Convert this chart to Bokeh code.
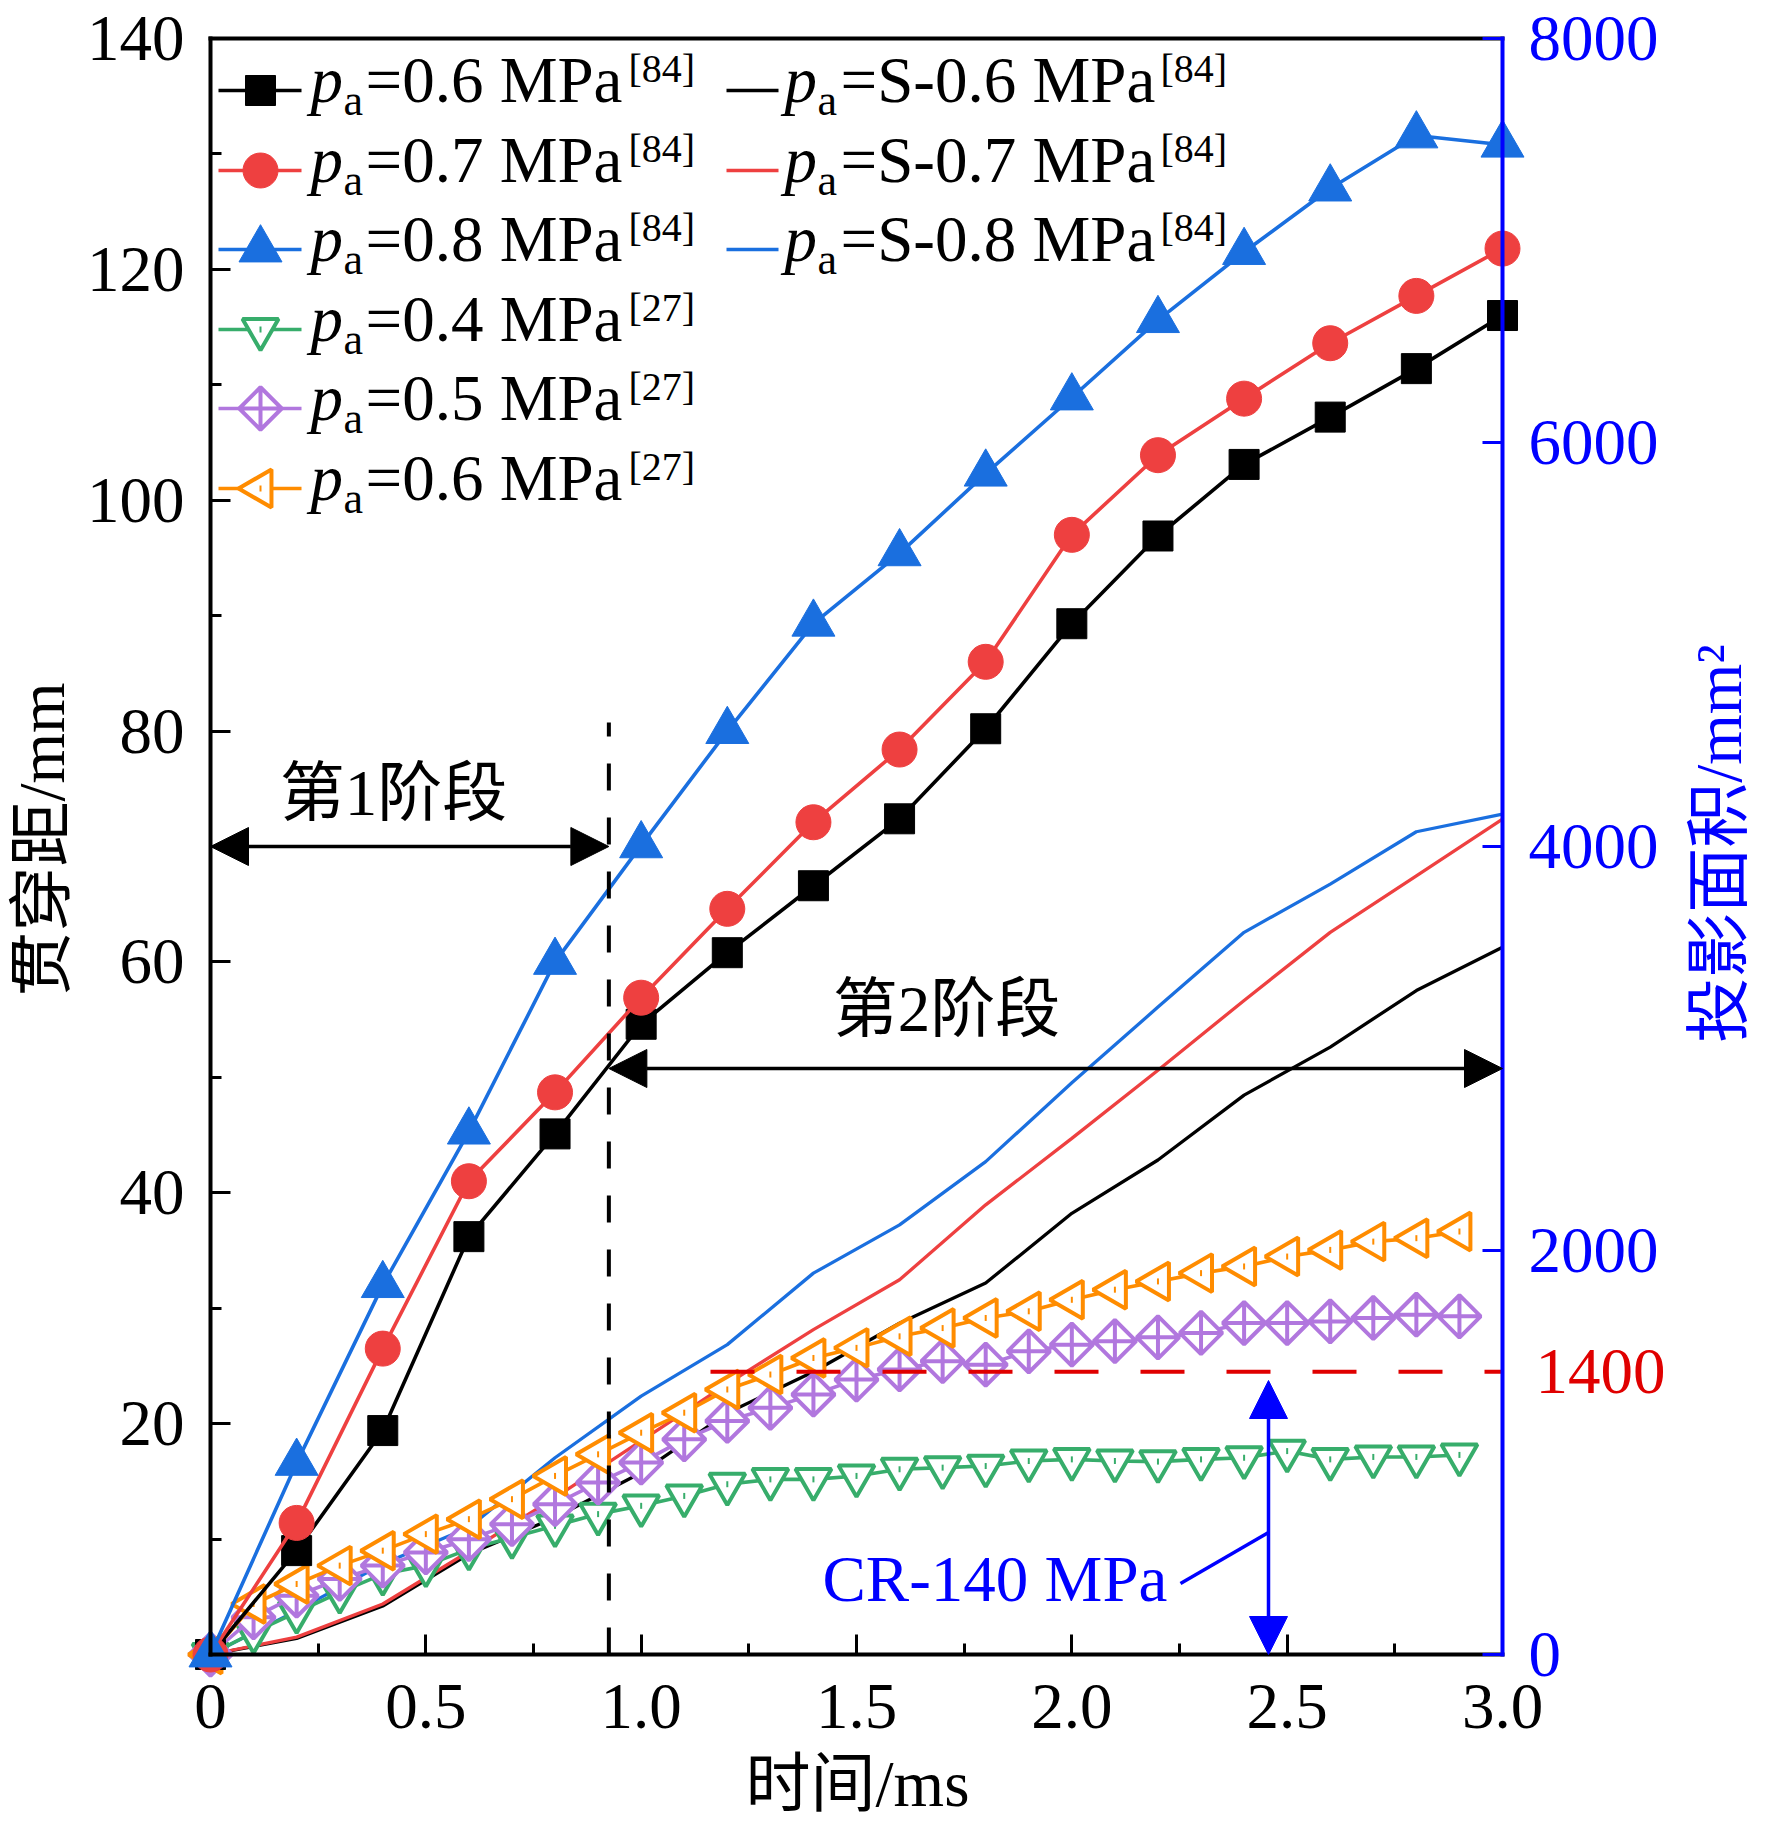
import math
from bokeh.plotting import figure
from bokeh.models import Range1d, LinearAxis, FixedTicker, Arrow, NormalHead, Label, CustomJSTickFormatter
from bokeh.core.properties import value
from bokeh.embed import file_html
from bokeh.resources import INLINE

# ---------------- data ----------------
t_84 = [0.0, 0.2, 0.4, 0.6, 0.8, 1.0, 1.2, 1.4, 1.6, 1.8, 2.0, 2.2, 2.4, 2.6, 2.8, 3.0]
pen_06 = [0, 9.0, 19.4, 36.2, 45.1, 54.6, 60.8, 66.6, 72.4, 80.2, 89.3, 96.9, 103.1, 107.2, 111.4, 116.0]
pen_07 = [0, 11.4, 26.5, 41.0, 48.7, 56.9, 64.6, 72.1, 78.4, 86.0, 97.0, 103.9, 108.8, 113.6, 117.7, 121.8]
pen_08 = [0, 16.6, 32.0, 45.3, 60.0, 70.1, 80.0, 89.3, 95.4, 102.3, 108.9, 115.6, 121.5, 127.0, 131.6, 130.8]

area_s06 = [0, 80, 240, 497, 678, 900, 1195, 1400, 1640, 1839, 2184, 2448, 2769, 3007, 3287, 3501]
area_s07 = [0, 86, 250, 510, 777, 1057, 1340, 1608, 1855, 2226, 2555, 2892, 3238, 3575, 3855, 4135]
area_s08 = [0, 217, 448, 629, 974, 1279, 1534, 1888, 2127, 2440, 2830, 3205, 3575, 3814, 4073, 4160]

t_27 = [0.0, 0.1, 0.2, 0.3, 0.4, 0.5, 0.6, 0.7, 0.8, 0.9, 1.0, 1.1, 1.2, 1.3, 1.4,
        1.5, 1.6, 1.7, 1.8, 1.9, 2.0, 2.1, 2.2, 2.3, 2.4, 2.5, 2.6, 2.7, 2.8, 2.9]
area_04 = [0, 110, 209, 308, 398, 440, 522, 579, 637, 695, 736, 785, 843, 867, 867,
           884, 917, 925, 933, 958, 966, 958, 955, 966, 974, 1007, 966, 978, 978, 988]
area_05 = [0, 184, 291, 374, 440, 505, 571, 645, 744, 851, 950, 1065, 1156, 1221, 1287,
           1361, 1411, 1452, 1435, 1501, 1534, 1551, 1570, 1592, 1641, 1641, 1649, 1666, 1682, 1674]
area_06 = [0, 250, 349, 440, 514, 596, 670, 769, 884, 991, 1098, 1197, 1312, 1386, 1468,
           1518, 1575, 1616, 1666, 1699, 1756, 1806, 1847, 1888, 1921, 1970, 2003, 2044, 2061, 2094]

x_ticks = [0, 0.5, 1.0, 1.5, 2.0, 2.5, 3.0]
x_minor = [0.25, 0.75, 1.25, 1.75, 2.25, 2.75]
y_left_ticks = [20, 40, 60, 80, 100, 120, 140]
y_left_minor = [10, 30, 50, 70, 90, 110, 130]
y_right_ticks = [0, 2000, 4000, 6000, 8000]
x_max, y_left_max, y_right_max = 3.0, 140.0, 8000.0

threshold_area = 1400
stage_boundary = 0.925

x_title = "时间/ms"
y_left_title = "贯穿距/mm"
y_right_title = "投影面积/mm²"

legend_left_main = ["=0.6 MPa", "=0.7 MPa", "=0.8 MPa", "=0.4 MPa", "=0.5 MPa", "=0.6 MPa"]
legend_left_refs = ["[84]", "[84]", "[84]", "[27]", "[27]", "[27]"]
legend_right_main = ["=S-0.6 MPa", "=S-0.7 MPa", "=S-0.8 MPa"]
legend_right_refs = ["[84]", "[84]", "[84]"]

# ---------------- style ----------------
SERIF = "'Liberation Serif', 'Noto Sans CJK SC'"
BLACK = "#000000"
RED = "#ee4040"
BLUE = "#1a6fdf"
GREEN = "#37ad6b"
PURPLE = "#b177de"
ORANGE = "#ff8c00"
AXBLUE = "#0000ff"
THRED = "#e00000"
FS = "65px"
LW_DATA = 3.6     # lines of the marker series
LW_SIM = 3.3      # simulated lines
LW_OPEN = 4       # outline of open markers

W, H = 1772, 1832
# where the axes box sits on the page (px)
FL, FR, FT, FB = 210, 1502, 38, 1654
R = y_right_max / y_left_max


def X(px):
    return (px - FL) / (FR - FL) * x_max


def Y(py):
    return (FB - py) / (FB - FT) * y_left_max


# the drawing frame covers the whole canvas; axes are pinned with fixed_location
p = figure(width=W, height=H, x_range=Range1d(X(0), X(W)), y_range=Range1d(Y(H), Y(0)),
           output_backend="svg", toolbar_location=None, title=None,
           x_axis_location=None, y_axis_location=None, min_border=0)
p.extra_y_ranges = {"right": Range1d(Y(H) * R, Y(0) * R)}
p.outline_line_color = None
for g in p.grid:
    g.visible = False
p.background_fill_color = "white"
p.border_fill_color = "white"


def style_axis(ax, color):
    ax.axis_line_color = color
    ax.axis_line_width = 4
    ax.major_tick_line_color = color
    ax.major_tick_line_width = 3
    ax.minor_tick_line_color = color
    ax.minor_tick_line_width = 3
    ax.major_tick_in = 20
    ax.major_tick_out = 0
    ax.minor_tick_in = 11
    ax.minor_tick_out = 0
    ax.major_label_text_font = SERIF
    ax.major_label_text_font_size = FS
    ax.major_label_text_color = color


xa = LinearAxis(fixed_location=0, bounds=(X(FL - 2), X(FR + 2)))
style_axis(xa, BLACK)
xa.ticker = FixedTicker(ticks=x_ticks, minor_ticks=x_minor)
xa.formatter = CustomJSTickFormatter(code="return tick == 0 ? '0' : tick.toFixed(1);")
xa.major_label_standoff = 30
p.add_layout(xa, "below")

ya = LinearAxis(fixed_location=0, bounds=(Y(FB + 2), Y(FT - 2)))
style_axis(ya, BLACK)
ya.ticker = FixedTicker(ticks=y_left_ticks, minor_ticks=y_left_minor)
ya.major_label_standoff = 26
p.add_layout(ya, "left")

ra = LinearAxis(y_range_name="right", fixed_location=x_max,
                bounds=(Y(FB + 2) * R, Y(FT - 2) * R))
style_axis(ra, AXBLUE)
ra.ticker = FixedTicker(ticks=y_right_ticks, minor_ticks=[])
ra.major_label_standoff = 26
p.add_layout(ra, "right")

ta = LinearAxis(fixed_location=y_left_max, bounds=(X(FL - 2), X(FR + 2)),
                ticker=FixedTicker(ticks=[], minor_ticks=[]))
ta.axis_line_color = BLACK
ta.axis_line_width = 4
ta.major_tick_line_color = None
ta.minor_tick_line_color = None
ta.major_label_text_font_size = "0px"
p.add_layout(ta, "above")

# axis titles and the red threshold value
p.text(x=[X(41)], y=[Y(839)], text=[y_left_title], angle=math.pi / 2,
       text_font=value(SERIF), text_font_size=value(FS), text_align="center",
       text_baseline="middle", text_color=BLACK)
p.text(x=[X(857)], y=[Y(1783)], text=[x_title],
       text_font=value(SERIF), text_font_size=value(FS), text_align="center",
       text_baseline="middle", text_color=BLACK)
p.text(x=[X(1718)], y=[Y(843)], text=[y_right_title], angle=math.pi / 2,
       text_font=value(SERIF), text_font_size=value(FS), text_align="center",
       text_baseline="middle", text_color=AXBLUE)
p.text(x=[x_max], y=[threshold_area], text=[str(threshold_area)], x_offset=33,
       y_range_name="right", text_font=value(SERIF), text_font_size=value(FS),
       text_align="left", text_baseline="middle", text_color=THRED)

# ---------------- simulated lines (right axis) ----------------
p.line(t_84, area_s06, line_color=BLACK, line_width=LW_SIM, y_range_name="right")
p.line(t_84, area_s07, line_color=RED, line_width=LW_SIM, y_range_name="right")
p.line(t_84, area_s08, line_color=BLUE, line_width=LW_SIM, y_range_name="right")

# ---------------- [27] open-marker series (right axis) ----------------
p.line(t_27, area_04, line_color=GREEN, line_width=LW_DATA, y_range_name="right")
p.scatter(t_27, area_04, marker="inverted_triangle", size=36, line_color=GREEN,
          fill_color="white", line_width=LW_OPEN, y_range_name="right")
p.scatter(t_27, area_04, marker="dash", angle=math.pi / 2, size=6, line_color=GREEN,
          line_width=2, y_range_name="right")

p.line(t_27, area_05, line_color=PURPLE, line_width=LW_DATA, y_range_name="right")
p.scatter(t_27, area_05, marker="square_x", angle=math.pi / 4, size=30, line_color=PURPLE,
          fill_color="white", line_width=LW_OPEN, y_range_name="right")

p.line(t_27, area_06, line_color=ORANGE, line_width=LW_DATA, y_range_name="right")
p.scatter(t_27, area_06, marker="triangle", angle=math.pi / 2, size=38, line_color=ORANGE,
          fill_color="white", line_width=LW_OPEN, y_range_name="right")
p.scatter(t_27, area_06, marker="dash", angle=math.pi / 2, size=6, line_color=ORANGE,
          line_width=2, y_range_name="right")

# ---------------- [84] filled series (left axis) ----------------
p.line(t_84, pen_06, line_color=BLACK, line_width=LW_DATA)
p.scatter(t_84, pen_06, marker="square", size=30, color=BLACK)
p.line(t_84, pen_07, line_color=RED, line_width=LW_DATA)
p.scatter(t_84, pen_07, marker="circle", size=35, color=RED)
p.line(t_84, pen_08, line_color=BLUE, line_width=LW_DATA)
p.scatter(t_84, pen_08, marker="triangle", size=43, color=BLUE)

# ---------------- annotations ----------------
p.line([stage_boundary, stage_boundary], [0, Y(722)], line_color=BLACK, line_width=4,
       line_dash="27 27")
p.line([X(710), x_max], [threshold_area, threshold_area], line_color=THRED, line_width=4,
       line_dash="44 42", y_range_name="right")

p.add_layout(Arrow(start=NormalHead(size=38, fill_color=BLACK, line_color=BLACK),
                   end=NormalHead(size=38, fill_color=BLACK, line_color=BLACK),
                   x_start=0, y_start=Y(846), x_end=stage_boundary, y_end=Y(846),
                   line_width=3.5, line_color=BLACK))
p.add_layout(Arrow(start=NormalHead(size=38, fill_color=BLACK, line_color=BLACK),
                   end=NormalHead(size=38, fill_color=BLACK, line_color=BLACK),
                   x_start=stage_boundary, y_start=Y(1068), x_end=x_max, y_end=Y(1068),
                   line_width=3.5, line_color=BLACK))
cr_x = X(1268)
p.add_layout(Arrow(start=NormalHead(size=38, fill_color=AXBLUE, line_color=AXBLUE),
                   end=NormalHead(size=38, fill_color=AXBLUE, line_color=AXBLUE),
                   x_start=cr_x, y_start=Y(1380), x_end=cr_x, y_end=0,
                   line_width=3.5, line_color=AXBLUE))
p.line([X(1180), cr_x], [Y(1583), Y(1532)], line_color=AXBLUE, line_width=3.5)

p.add_layout(Label(x=X(393), y=Y(792), text="第1阶段", text_font=SERIF, text_font_size=FS,
                   text_align="center", text_baseline="middle", text_color=BLACK))
p.add_layout(Label(x=X(946), y=Y(1008), text="第2阶段", text_font=SERIF, text_font_size=FS,
                   text_align="center", text_baseline="middle", text_color=BLACK))
p.add_layout(Label(x=X(822), y=Y(1578), text="CR-140 MPa", text_font=SERIF, text_font_size=FS,
                   text_align="left", text_baseline="middle", text_color=AXBLUE))

# ---------------- hand-built legend ----------------
rows = [90, 170, 249, 329, 408, 488]
left_colors = [BLACK, RED, BLUE, GREEN, PURPLE, ORANGE]
for ry, col in zip(rows, left_colors):
    p.line([X(218), X(301)], [Y(ry), Y(ry)], line_color=col, line_width=LW_DATA)
mx = X(260)
p.scatter([mx], [Y(rows[0])], marker="square", size=30, color=BLACK)
p.scatter([mx], [Y(rows[1])], marker="circle", size=35, color=RED)
p.scatter([mx], [Y(rows[2])], marker="triangle", size=43, color=BLUE)
p.scatter([mx], [Y(rows[3])], marker="inverted_triangle", size=36, line_color=GREEN,
          fill_color="white", line_width=LW_OPEN)
p.scatter([mx], [Y(rows[3])], marker="dash", angle=math.pi / 2, size=6, line_color=GREEN, line_width=2)
p.scatter([mx], [Y(rows[4])], marker="square_x", angle=math.pi / 4, size=30, line_color=PURPLE,
          fill_color="white", line_width=LW_OPEN)
p.scatter([mx], [Y(rows[5])], marker="triangle", angle=math.pi / 2, size=38, line_color=ORANGE,
          fill_color="white", line_width=LW_OPEN)
p.scatter([mx], [Y(rows[5])], marker="dash", angle=math.pi / 2, size=6, line_color=ORANGE, line_width=2)

for ry, col in zip(rows[:3], [BLACK, RED, BLUE]):
    p.line([X(726), X(778)], [Y(ry), Y(ry)], line_color=col, line_width=LW_SIM)


def legend_text(x_p, x_a, x_main, x_ref, rws, mains, refs):
    n = len(rws)
    p.text(x=[X(x_p)] * n, y=[Y(r - 11) for r in rws], text=["p"] * n,
           text_font=value(SERIF), text_font_size=value(FS), text_font_style="italic",
           text_baseline="middle", text_align="left", text_color=BLACK)
    p.text(x=[X(x_a)] * n, y=[Y(r + 10) for r in rws], text=["a"] * n,
           text_font=value(SERIF), text_font_size=value("44px"),
           text_baseline="middle", text_align="left", text_color=BLACK)
    p.text(x=[X(x_main)] * n, y=[Y(r - 11) for r in rws], text=mains,
           text_font=value(SERIF), text_font_size=value(FS),
           text_baseline="middle", text_align="left", text_color=BLACK)
    p.text(x=[X(x_ref)] * n, y=[Y(r - 22) for r in rws], text=refs,
           text_font=value(SERIF), text_font_size=value("40px"),
           text_baseline="middle", text_align="left", text_color=BLACK)


legend_text(310, 343, 365, 628, rows, legend_left_main, legend_left_refs)
legend_text(784, 817, 840, 1160, rows[:3], legend_right_main, legend_right_refs)

open("out.html", "w").write(file_html(p, INLINE))
